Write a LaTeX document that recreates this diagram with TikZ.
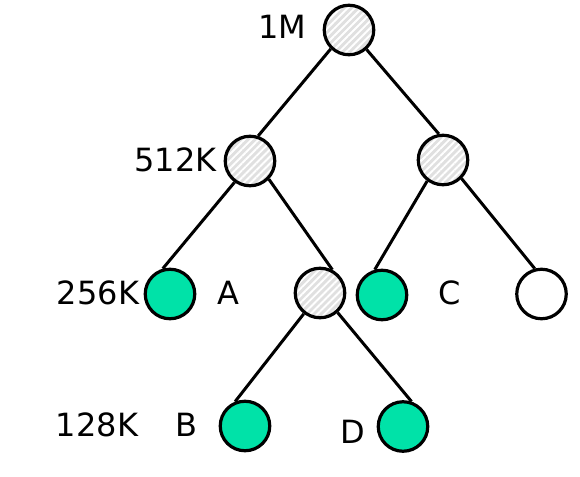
\documentclass[tikz,border=0pt]{standalone}
\usepackage{fontspec}
\setmainfont{DejaVu Sans}
\usetikzlibrary{patterns.meta}
\definecolor{leaf}{RGB}{0,226,168}
\tikzset{
  every picture/.style={x=1pt,y=-1pt},
  blk/.style={circle, draw=black, line width=3.2pt, minimum size=49.5pt, inner sep=0pt},
  split/.style={blk, preaction={fill=black!12},
    preaction={pattern={Lines[angle=45,distance=5pt,line width=1.9pt]}, pattern color=white}},
  used/.style={blk, fill=leaf},
  free/.style={blk, fill=white},
  lbl/.style={inner sep=0pt, anchor=center, font=\fontsize{32}{32}\selectfont},
  edge/.style={draw=black, line width=3pt}
}
\begin{document}
\begin{tikzpicture}
\useasboundingbox (0,0) rectangle (580,476);

% tree nodes
\node[split] (r)  at (349,30)  {};
\node[split] (l)  at (250,161) {};
\node[split] (rr) at (443,160) {};
\node[used]  (a)  at (170,294) {};
\node[split] (h)  at (320,293) {};
\node[used]  (c)  at (382,295) {};
\node[free]  (w)  at (541.5,294) {};
\node[used]  (b)  at (245,426) {};
\node[used]  (d)  at (403,426.5) {};

% block sizes and labels
\node[lbl] (t1) at (282,27)    {1M};
\node[lbl] (t2) at (175.5,160) {512K};
\node[lbl] (t3) at (98,292.5)  {256K};
\node[lbl] (t4) at (97,425)    {128K};
\node[lbl] (la) at (228,292.5) {A};
\node[lbl] (lc) at (450,293)   {C};
\node[lbl] (lb) at (186,425)   {B};
\node[lbl] (ld) at (353,432)   {D};

% connectors
\draw[edge] (r.226)  -- (l.72);
\draw[edge] (r.312)  -- (rr.99);
\draw[edge] (l.234)  -- (a.106);
\draw[edge] (l.316)  -- (h.62);
\draw[edge] (rr.233) -- (c.106);
\draw[edge] (rr.315) -- (w.105);
\draw[edge] (h.232)  -- (b.112);
\draw[edge] (h.312)  -- (d.71);
\end{tikzpicture}
\end{document}
